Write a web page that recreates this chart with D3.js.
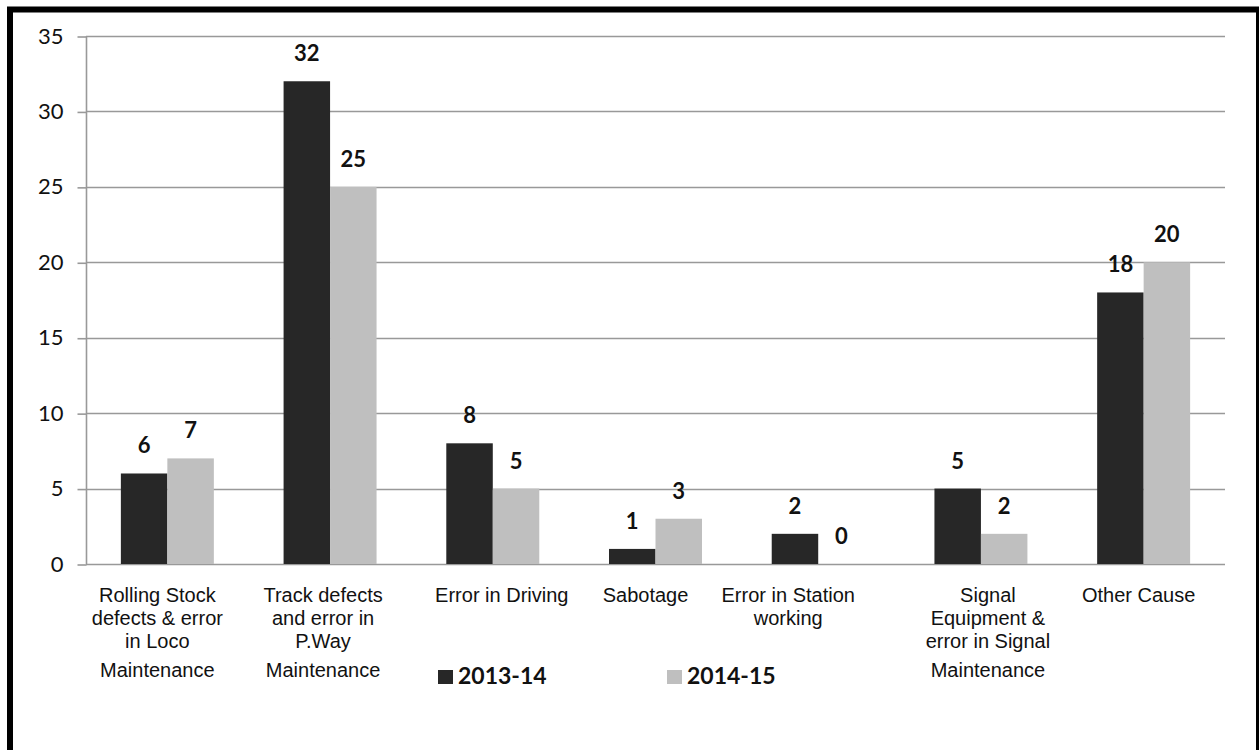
<!DOCTYPE html>
<html>
<head>
<meta charset="utf-8">
<script src="https://cdn.jsdelivr.net/npm/d3@7"></script>
<style>
  html, body { margin: 0; padding: 0; background: #ffffff; }
  svg { display: block; }
</style>
</head>
<body>
<svg id="chart" width="1259" height="750"></svg>
<script>
// Causes of consequential train accidents, by year
const categories = [
  "Rolling Stock",
  "Track defects",
  "Error in Driving",
  "Sabotage",
  "Error in Station working",
  "Signal Equipment",
  "Other Cause"
];
const categoryLines = [
  ["Rolling Stock", "defects & error", "in Loco", "Maintenance"],
  ["Track defects", "and error in", "P.Way", "Maintenance"],
  ["Error in Driving"],
  ["Sabotage"],
  ["Error in Station", "working"],
  ["Signal", "Equipment &", "error in Signal", "Maintenance"],
  ["Other Cause"]
];
const seriesNames = ["2013-14", "2014-15"];
const values2013 = [6, 32, 8, 1, 2, 5, 18];
const values2014 = [7, 25, 5, 3, 0, 2, 20];
const yTicks = [0, 5, 10, 15, 20, 25, 30, 35];

// Layout and styling
const colors = ["#272727", "#bfbfbf"];
const plot = { left: 86, right: 1225, top: 36, bottom: 564 };
const labelShift = [-10, -7, 9, -10, -30, 7, -5];
const lineOffsets = [0, 23, 46, 75];

const svg = d3.select("#chart");

const x0 = d3.scaleBand()
  .domain(categories)
  .range([plot.left, plot.right])
  .padding(0);

const x1 = d3.scaleBand()
  .domain(seriesNames)
  .range([0, x0.bandwidth()])
  .paddingInner(0)
  .paddingOuter(0.75);

const y = d3.scaleLinear()
  .domain([0, 35])
  .range([plot.bottom, plot.top]);

// Outer frame
svg.append("rect")
  .attr("x", 10).attr("y", 9.5)
  .attr("width", 1249).attr("height", 800)
  .attr("fill", "none")
  .attr("stroke", "#000")
  .attr("stroke-width", 6);

// Gridlines
svg.append("g")
  .selectAll("line")
  .data(yTicks)
  .join("line")
  .attr("x1", plot.left).attr("x2", plot.right)
  .attr("y1", d => Math.round(y(d)) + 0.5)
  .attr("y2", d => Math.round(y(d)) + 0.5)
  .attr("stroke", "#999")
  .attr("stroke-width", 1.6);

// Y axis
const yAxis = d3.axisLeft(y)
  .tickValues(yTicks)
  .tickSize(9)
  .tickPadding(14)
  .tickFormat(d3.format("d"));

const yAxisG = svg.append("g")
  .attr("transform", `translate(${plot.left + 0.5},0)`)
  .call(yAxis);
yAxisG.select(".domain").attr("stroke", "#999").attr("stroke-width", 1.6)
  .attr("d", `M0,${plot.top}V${plot.bottom}`);
yAxisG.selectAll(".tick line").attr("stroke", "#999").attr("stroke-width", 1.6)
  .attr("transform", "translate(0,0.5)");
yAxisG.selectAll(".tick text")
  .attr("font-family", "Lato, 'Open Sans', sans-serif")
  .attr("font-size", 22)
  .attr("fill", "#111");

// Bars
const rows = categories.map((c, i) => ({
  category: c,
  values: [values2013[i], values2014[i]]
}));

const groups = svg.append("g")
  .selectAll("g")
  .data(rows)
  .join("g")
  .attr("transform", d => `translate(${x0(d.category)},0)`);

groups.selectAll("rect")
  .data(d => d.values.map((v, j) => ({ series: seriesNames[j], value: v, j })))
  .join("rect")
  .attr("x", d => x1(d.series))
  .attr("y", d => y(d.value))
  .attr("width", x1.bandwidth())
  .attr("height", d => y(0) - y(d.value))
  .attr("fill", d => colors[d.j]);

// Value labels
groups.selectAll("text")
  .data(d => d.values.map((v, j) => ({ series: seriesNames[j], value: v })))
  .join("text")
  .attr("x", d => x1(d.series) + x1.bandwidth() / 2)
  .attr("y", d => y(d.value) - 20)
  .attr("text-anchor", "middle")
  .attr("font-family", "Lato, 'Open Sans', sans-serif")
  .attr("font-weight", "bold")
  .attr("font-size", 22)
  .attr("fill", "#111")
  .text(d => d.value);

// Category labels
const catLabels = svg.append("g")
  .selectAll("text")
  .data(categories)
  .join("text")
  .attr("text-anchor", "middle")
  .attr("font-family", "'Liberation Sans', Arial, sans-serif")
  .attr("font-size", 20)
  .attr("fill", "#111");

catLabels.each(function(c, i) {
  const cx = x0(c) + x0.bandwidth() / 2 + labelShift[i];
  d3.select(this).selectAll("tspan")
    .data(categoryLines[i])
    .join("tspan")
    .attr("x", cx)
    .attr("y", (d, k) => 602 + lineOffsets[k])
    .text(d => d);
});

// Legend
const legendX = [438, 667];
const legend = svg.append("g")
  .selectAll("g")
  .data(seriesNames)
  .join("g")
  .attr("transform", (d, i) => `translate(${legendX[i]},670)`);

legend.append("rect")
  .attr("width", 15).attr("height", 14)
  .attr("fill", (d, i) => colors[i]);

legend.append("text")
  .attr("x", 20).attr("y", 14)
  .attr("font-family", "Lato, 'Open Sans', sans-serif")
  .attr("font-weight", "bold")
  .attr("font-size", 23)
  .attr("fill", "#111")
  .text(d => d);
</script>
</body>
</html>
